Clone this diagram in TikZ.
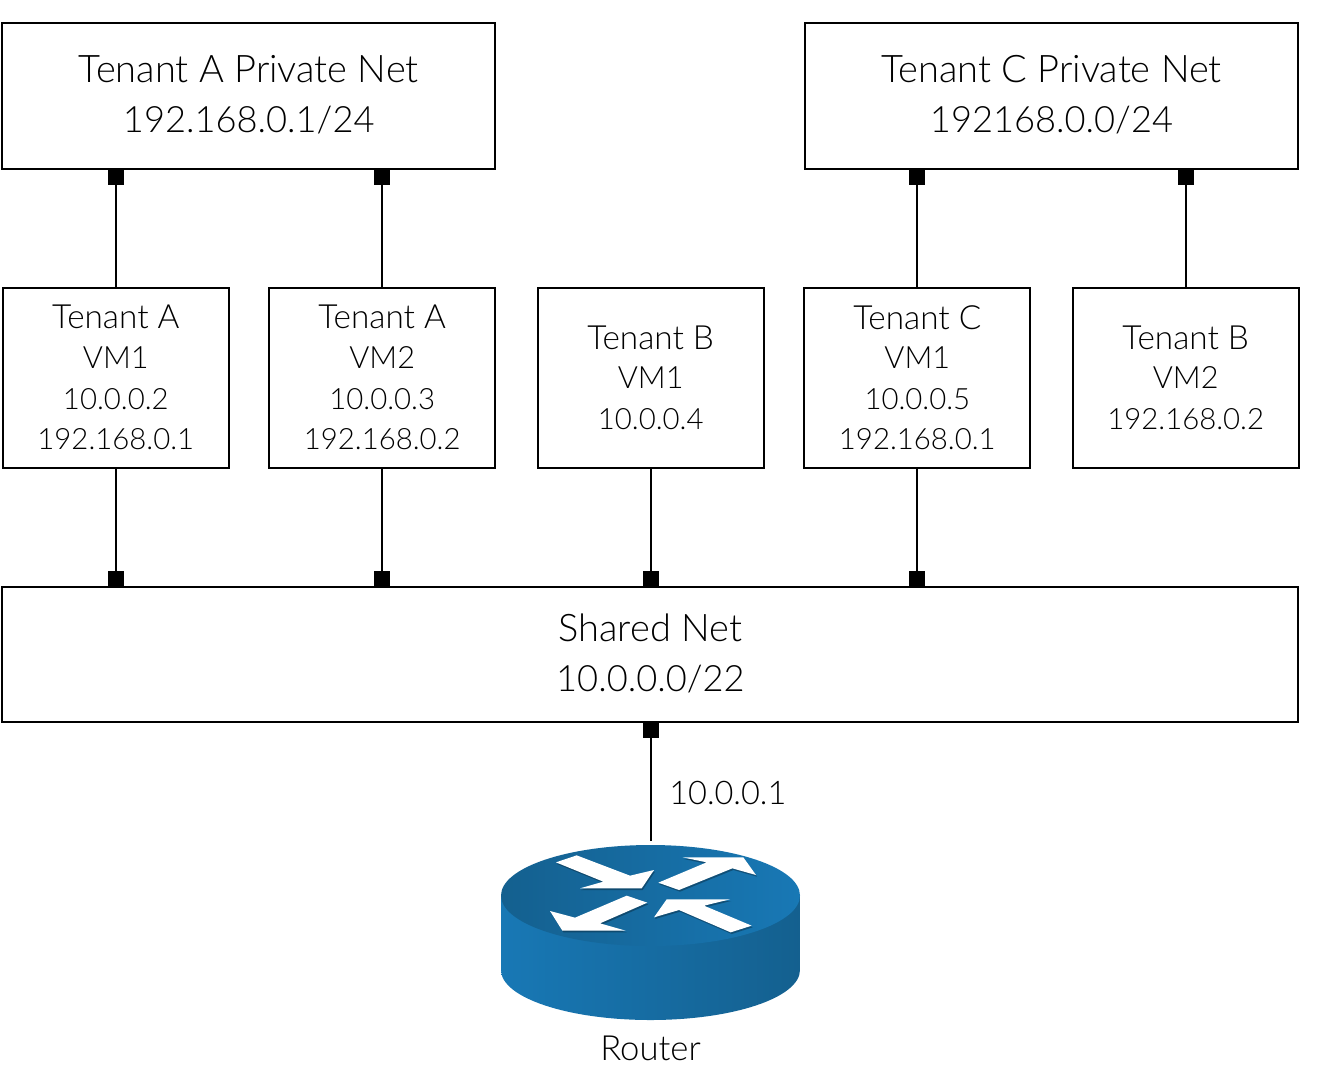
\documentclass[tikz,border=0pt]{standalone}
\usepackage{fontspec}
\setmainfont{Lato Light}
\usetikzlibrary{arrows.meta}
\definecolor{rdark}{HTML}{14608F}
\definecolor{rlight}{HTML}{1878B5}
\newcommand{\nudge}[2]{\raisebox{#1}[\height][\depth]{#2}}
\newcommand{\nettitle}[1]{\nudge{0.9pt}{\fontsize{28.5}{38}\selectfont #1}}
\newcommand{\netaddr}[1]{\nudge{0.9pt}{\fontsize{27.2}{38}\selectfont #1}}
\newcommand{\vmname}[1]{{\fontsize{25}{30.4}\selectfont #1}}
\newcommand{\vmid}[1]{\nudge{0.6pt}{#1}}
\newcommand{\vmaddr}[1]{\nudge{0.6pt}{\fontsize{22}{30.4}\selectfont #1}}
\tikzset{
  box/.style={draw=black,fill=white,line width=1.4pt,inner sep=0pt,outer sep=0pt,align=center},
  netbox/.style={box,font=\fontsize{28}{38}\selectfont},
  vmbox/.style={box,minimum width=169.5pt,minimum height=135pt,font=\fontsize{23}{30.4}\selectfont},
  link/.style={line width=1.4pt,-{Square[length=12pt,width=12pt,line width=0pt]}},
  rarrow/.style={fill=white},
  rshadow/.style={fill=black!70!rdark,opacity=.4}
}
\begin{document}
\begin{tikzpicture}[x=0.75pt,y=-0.75pt]
\useasboundingbox (0,0) rectangle (1325,1072);
\node[netbox,minimum width=369.75pt,minimum height=109.5pt] (pa) at (248.75,96) {\nettitle{Tenant A Private Net}\\\netaddr{192.168.0.1/24}};
\node[netbox,minimum width=369.75pt,minimum height=109.5pt] (pc) at (1051.5,96) {\nettitle{Tenant C Private Net}\\\netaddr{192168.0.0/24}};
\node[netbox,minimum width=972pt,minimum height=101.25pt] (sh) at (650.4,654.5) {\nettitle{Shared Net}\\\netaddr{10.0.0.0/22}};
\node[vmbox] (a1) at (115.8,378) {\vmname{Tenant A}\\\vmid{VM1}\\\vmaddr{10.0.0.2}\\\vmaddr{192.168.0.1}};
\node[vmbox] (a2) at (382.2,378) {\vmname{Tenant A}\\\vmid{VM2}\\\vmaddr{10.0.0.3}\\\vmaddr{192.168.0.2}};
\node[vmbox] (b1) at (650.7,378) {\vmname{Tenant B}\\\vmid{VM1}\\\vmaddr{10.0.0.4}};
\node[vmbox] (c1) at (917.3,378) {\vmname{Tenant C}\\\vmid{VM1}\\\vmaddr{10.0.0.5}\\\vmaddr{192.168.0.1}};
\node[vmbox] (b2) at (1185.7,378) {\vmname{Tenant B}\\\vmid{VM2}\\\vmaddr{192.168.0.2}};
\coordinate (rtop) at (650.7,841);
\draw[link] (a1.north) -- (a1.north |- pa.south);
\draw[link] (a2.north) -- (a2.north |- pa.south);
\draw[link] (c1.north) -- (c1.north |- pc.south);
\draw[link] (b2.north) -- (b2.north |- pc.south);
\draw[link] (a1.south) -- (a1.south |- sh.north);
\draw[link] (a2.south) -- (a2.south |- sh.north);
\draw[link] (b1.south) -- (b1.south |- sh.north);
\draw[link] (c1.south) -- (c1.south |- sh.north);
\draw[link] (rtop) -- (rtop |- sh.south);
\node[anchor=base west,font=\fontsize{24.4}{30}\selectfont,inner sep=0pt] (ip) at (669,804.5) {10.0.0.1};
% router
\shade[left color=rlight,right color=rdark]
  (501,895.5) -- (501,970) arc[start angle=180,end angle=0,x radius=149.5,y radius=50] -- (800,895.5) -- cycle;
\shade[left color=rdark,right color=rlight]
  (650.5,895.5) ellipse[x radius=149.5,y radius=50.5];
\begin{scope}[shift={(480,820)},x=0.25pt,y=-0.25pt]
  \begin{scope}[shift={(3,5)}]
  \fill[rshadow] (228,127)--(290,106)--(450,167)--(522,150)--(485,205)--(300,205)--(370,185)--cycle;
  \fill[rshadow] (535,188)--(680,127)--(608,112)--(790,112)--(828,165)--(757,145)--(597,210)--cycle;
  \fill[rshadow] (502,248)--(440,227)--(285,293)--(210,273)--(247,332)--(437,332)--(360,310)--cycle;
  \fill[rshadow] (815,317)--(752,337)--(597,270)--(522,292)--(560,238)--(750,238)--(672,257)--cycle;
  \end{scope}
  \fill[rarrow] (228,127)--(290,106)--(450,167)--(522,150)--(485,205)--(300,205)--(370,185)--cycle;
  \fill[rarrow] (535,188)--(680,127)--(608,112)--(790,112)--(828,165)--(757,145)--(597,210)--cycle;
  \fill[rarrow] (502,248)--(440,227)--(285,293)--(210,273)--(247,332)--(437,332)--(360,310)--cycle;
  \fill[rarrow] (815,317)--(752,337)--(597,270)--(522,292)--(560,238)--(750,238)--(672,257)--cycle;
\end{scope}
\node[anchor=base,font=\fontsize{26}{30}\selectfont] (rl) at (650.5,1060) {Router};
\end{tikzpicture}
\end{document}
